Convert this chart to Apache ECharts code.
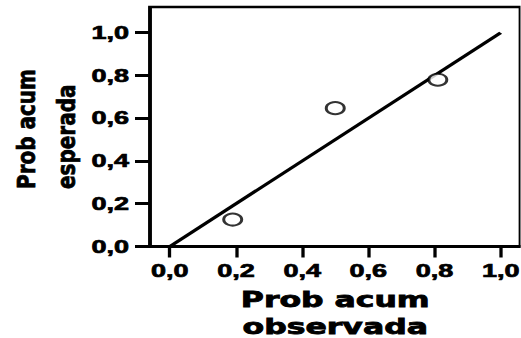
<!DOCTYPE html>
<html><head><meta charset="utf-8">
<script src="https://cdn.jsdelivr.net/npm/echarts@6/dist/echarts.min.js"></script>
<style>
html,body{margin:0;padding:0;background:#fff;overflow:hidden;}
#wrap{width:521px;height:338px;overflow:hidden;position:relative;}
#chart{width:347.33px;height:338px;transform:scaleX(1.5);transform-origin:0 0;}
</style></head><body><div id="wrap"><div id="chart"></div></div>
<script>
// Data
const observed = [0.19, 0.50, 0.81];
const expected = [0.126, 0.647, 0.78];
const refLineX = [0, 1];
const refLineY = [0, 1];
const tickValues = [0, 0.2, 0.4, 0.6, 0.8, 1.0];
const xTickLabels = ['0,0', '0,2', '0,4', '0,6', '0,8', '1,0'];
const yTickLabels = ['0,0', '0,2', '0,4', '0,6', '0,8', '1,0'];
const xTitle = 'Prob acum\nobservada';
const yTitle = 'Prob acum\nesperada';

const pts = observed.map((v, i) => [v, expected[i]]);
const linePts = refLineX.map((v, i) => [v, refLineY[i]]);
const labelFor = (labels) => (v) => labels[Math.round(v * 5)];

const chart = echarts.init(document.getElementById('chart'), null, {renderer: 'svg', width: 347.33, height: 338});
chart.setOption({
  backgroundColor: '#fff',
  animation: false,
  grid: {left: 100, top: 7, width: 247, height: 239.5, outerBoundsMode: 'none', containLabel: false,
         show: true, borderColor: '#000', borderWidth: 2.5, backgroundColor: 'transparent'},
  xAxis: {
    type: 'value', min: -0.06, max: 1.06,
    axisLine: {show: true, onZero: false, lineStyle: {color: '#000', width: 3}},
    axisTick: {show: true, customValues: tickValues, length: 11, lineStyle: {color: '#000', width: 2.2}},
    axisLabel: {customValues: tickValues, formatter: labelFor(xTickLabels), margin: 15, color: '#000',
                fontFamily: 'Liberation Sans', fontWeight: 'bold', fontSize: 18, textBorderColor: '#000', textBorderWidth: 0.7},
    splitLine: {show: false},
    name: xTitle, nameLocation: 'middle', nameGap: 40,
    nameTextStyle: {color: '#000', fontFamily: 'DejaVu Sans', fontWeight: 'bold', fontSize: 21, lineHeight: 26.5,
                    textBorderColor: '#000', textBorderWidth: 0.8}
  },
  yAxis: {
    type: 'value', min: 0, max: 1.12,
    axisLine: {show: true, onZero: false, lineStyle: {color: '#000', width: 2}},
    axisTick: {show: true, customValues: tickValues, length: 10, lineStyle: {color: '#000', width: 3}},
    axisLabel: {customValues: tickValues, formatter: labelFor(yTickLabels), margin: 14, color: '#000',
                fontFamily: 'Liberation Sans', fontWeight: 'bold', fontSize: 18, textBorderColor: '#000', textBorderWidth: 0.7},
    splitLine: {show: false}
  },
  graphic: [{
    type: 'text', x: 30.6, y: 189, rotation: Math.PI / 2, scaleY: 0.85,
    style: {text: yTitle, fill: '#000', stroke: '#000', lineWidth: 0.6, font: 'bold 20px "DejaVu Sans"',
            align: 'left', verticalAlign: 'middle', lineHeight: 31.4}
  }],
  series: [
    {type: 'line', data: linePts, symbol: 'none', lineStyle: {color: '#000', width: 2.8}, z: 2},
    {type: 'scatter', data: pts, symbol: 'emptyCircle', symbolSize: 12,
     itemStyle: {color: '#000', borderColor: '#000', borderWidth: 3}, z: 3}
  ]
});
</script></body></html>
